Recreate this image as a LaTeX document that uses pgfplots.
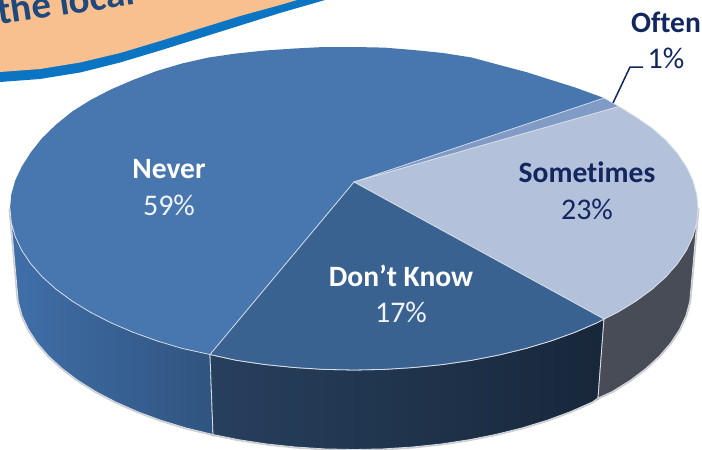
\documentclass[border=0pt]{standalone}
\usepackage{pgfplots}
\usepackage{pgfplotstable}
\usepackage{fontspec}
\setmainfont{Carlito}[Ligatures=NoCommon]
\pgfplotsset{compat=1.18}

\definecolor{never}{HTML}{4876AF}
\definecolor{neverL}{HTML}{406FA9}
\definecolor{neverR}{HTML}{30547F}
\definecolor{dknow}{HTML}{396290}
\definecolor{dkL}{HTML}{27405E}
\definecolor{dkM}{HTML}{1E3149}
\definecolor{dkR}{HTML}{18273A}
\definecolor{often}{HTML}{7F9BC6}
\definecolor{some}{HTML}{B3C1DA}
\definecolor{somewall}{HTML}{484C56}
\definecolor{sep}{HTML}{D8DEE8}
\definecolor{navy}{HTML}{12265F}
\definecolor{callout}{HTML}{F9C08F}
\definecolor{calloutline}{HTML}{0B75C4}
\definecolor{callouttext}{HTML}{1F497D}

\tikzset{
  lbl/.style={font=\fontsize{29.5}{33}\selectfont\bfseries, anchor=center, inner sep=0pt},
  val/.style={font=\fontsize{30}{33}\selectfont, anchor=center, inner sep=0pt},
}

% the picture is traced in image pixels, y pointing down
\pgfplotstableread{
x y
0 0
0 82
40 79
80 72.5
120 62.5
160 50.5
200 38
240 25.5
280 13
325 0
}\bandtbl
\pgfplotstableread{
x y
0 0
0 72
40 69
80 62.5
120 53
160 41
200 28.5
240 16
280 5
297 0
}\orangetbl

% top face
\pgfplotstableread{
x y
354 182
210 354.5
182 348.4
156.7 340.8
132.9 332.2
110.8 322.7
90.5 312.3
72.2 301.1
56.1 289.3
42.2 276.8
30.7 263.7
21.7 250.3
15.2 236.5
11.3 222.6
10 208.5
11.3 194.4
15.2 180.5
21.7 166.7
30.7 152.5
42.2 138
56.1 124.5
72.2 111.5
90.5 100
110.8 89.5
132.9 80
156.7 71
182 63.5
208.6 57.5
236.4 53.5
265 50.5
294.3 48.5
324 47
354 47
384 47.6
413.7 50
443 53
471.6 57.5
499.4 65
526 72
551.3 80
575.1 87.5
597.2 95.5
604 98
}\nevertop
\pgfplotstableread{
x y
354 182
604 98
619 106.5
}\oftentop
\pgfplotstableread{
x y
354 182
619 106.5
635.8 117
651.9 128
665.8 140.2
677.3 153.3
686.3 166.7
692.8 180.5
696.7 194.4
698 208.5
696.7 222.6
692.8 236.5
686.3 250.3
677.3 263.7
665.8 276.8
651.9 289.3
635.8 301.1
617.5 312.3
604 319
}\sometop
\pgfplotstableread{
x y
354 182
604 319
597.2 322.7
575.1 332.2
551.3 340.8
526 348.4
499.4 354.9
471.6 360.3
443 364.5
413.7 367.5
384 369.4
354 370
324 369.4
294.3 367.5
265 364.5
236.4 360.3
210 354.5
}\dktop

% walls
\pgfplotstableread{
x y
10 208.5
11.3 222.6
15.2 236.5
21.7 250.3
30.7 263.7
42.2 276.8
56.1 289.3
72.2 301.1
90.5 312.3
110.8 322.7
132.9 332.2
156.7 340.8
182 348.4
210 354.5
213 434.5
185.5 427.8
160.7 420.2
137.4 411.6
115.7 402
95.9 391.6
77.9 380.4
62.2 368.5
48.6 356
37.3 342.9
28.5 329.4
22.1 315.6
18.3 301.6
17 287.5
}\neverwall
\pgfplotstableread{
x y
210 354.5
236.4 360.3
265 364.5
294.3 367.5
324 369.4
354 370
384 369.4
413.7 367.5
443 364.5
471.6 360.3
499.4 354.9
526 348.4
551.3 340.8
575.1 332.2
597.2 322.7
604 319
598 398
592.3 402
570.6 411.6
547.3 420.2
522.5 427.8
496.4 434.3
469.3 439.7
441.2 444
412.5 447
383.4 448.9
354 449.5
324.6 448.9
295.5 447
266.8 444
238.7 439.7
213 434.5
}\dkwall
\pgfplotstableread{
x y
604 319
617.5 312.3
635.8 301.1
651.9 289.3
665.8 276.8
677.3 263.7
686.3 250.3
692.8 236.5
696.7 222.6
698 208.5
691 287.5
689.7 301.6
685.9 315.6
679.5 329.4
670.7 342.9
659.4 356
645.8 368.5
630.1 380.4
612.1 391.6
598 398
}\somewall

\pgfplotstableread{
x y
613 103
630 67
643 67
}\leader

\begin{document}
\begin{tikzpicture}
\path[use as bounding box] (0,0) rectangle (702pt,450pt);
\begin{axis}[
  at={(0,0)}, anchor=south west,
  scale only axis, width=702pt, height=450pt,
  xmin=0, xmax=702, ymin=0, ymax=450, y dir=reverse,
  hide axis,
  clip=true,
  every axis plot/.append style={no markers},
]

% callout in the corner
\addplot[fill=calloutline, draw=none] table {\bandtbl} -- cycle;
\addplot[fill=callout, draw=none] table {\orangetbl} -- cycle;
\node[font=\fontsize{39}{42}\selectfont\bfseries, text=callouttext, anchor=base west, rotate=8.5, inner sep=0pt]
  at (axis cs:-1,25) {the local};

% soft edge under the pie
\addplot[draw=gray, opacity=0.4, line width=3pt] table {\neverwall} -- cycle;
\addplot[draw=gray, opacity=0.4, line width=3pt] table {\dkwall} -- cycle;
\addplot[draw=gray, opacity=0.4, line width=3pt] table {\somewall} -- cycle;

\addplot[fill=never, draw=none] table {\nevertop} -- cycle;

\addplot[left color=neverL, right color=neverR, draw=sep, line width=0.8pt] table {\neverwall} -- cycle;
\addplot[left color=dkL, middle color=dkM, right color=dkR, draw=sep, line width=0.8pt] table {\dkwall} -- cycle;
\addplot[fill=somewall, draw=sep, line width=0.8pt] table {\somewall} -- cycle;

\addplot[fill=often, draw=sep, line width=0.7pt] table {\oftentop} -- cycle;
\addplot[fill=some, draw=sep, line width=0.7pt] table {\sometop} -- cycle;
\addplot[fill=dknow, draw=sep, line width=0.8pt] table {\dktop} -- cycle;

\addplot[draw=navy, line width=1.5pt] table {\leader};

\node[lbl, text=white] at (axis cs:169,169) {Never};
\node[val, text=white!92!never] at (axis cs:169,205) {59\%};
\node[lbl, text=white] at (axis cs:401,276) {Don’t Know};
\node[val, text=white!92!never] at (axis cs:401,312) {17\%};
\node[lbl, text=navy] at (axis cs:587,172) {Sometimes};
\node[val, text=navy] at (axis cs:587,209) {23\%};
\node[lbl, text=navy] at (axis cs:666,22) {Often};
\node[val, text=navy] at (axis cs:666,58) {1\%};
\end{axis}
\end{tikzpicture}
\end{document}
